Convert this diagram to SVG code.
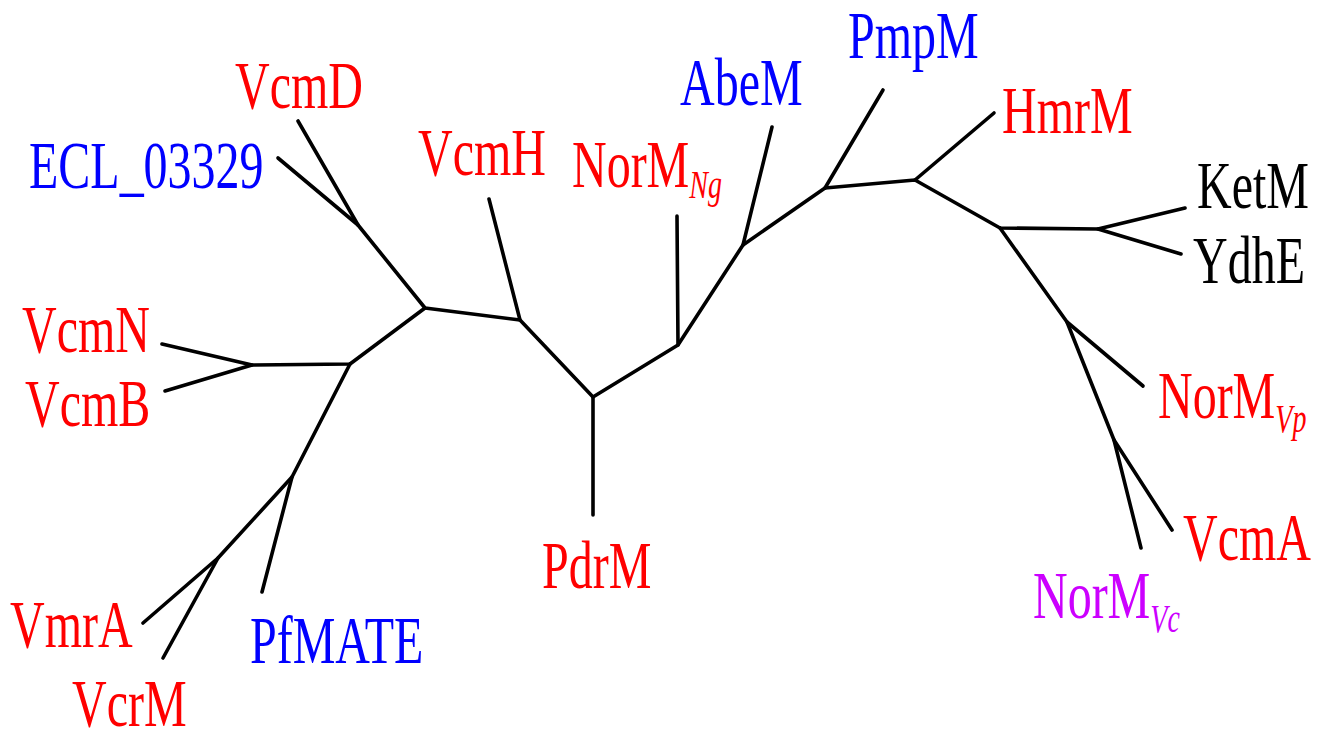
<svg xmlns="http://www.w3.org/2000/svg" width="1317" height="740" viewBox="0 0 1317 740">
<style>
.e{fill:none;stroke:#000;stroke-width:3.6;stroke-linecap:round;stroke-linejoin:round}
text{font-family:"Liberation Serif","Times New Roman",serif;font-size:48px}
.r{fill:#ff0000}.b{fill:#0000ff}.k{fill:#000}.p{fill:#cc00ff}
.s{font-style:italic;font-size:28px}
</style>
<rect width="1317" height="740" fill="#fff"/>
<g id="connectors">
<path class="e" d="M298,121 L358,225 L425,308 L520,320 L593,397 L678,345 L743,245 L825,188 L915,180 L1000,228 L1098,229 L1185,208"/>
<path class="e" d="M278,158 L358,225"/>
<path class="e" d="M425,308 L350,364 L252,365 L162,344"/>
<path class="e" d="M252,365 L165,391"/>
<path class="e" d="M350,364 L292,477 L218,558 L143,623"/>
<path class="e" d="M292,477 L262,592"/>
<path class="e" d="M218,558 L163,658"/>
<path class="e" d="M520,320 L489,199"/>
<path class="e" d="M593,397 L593,515"/>
<path class="e" d="M678,345 L677,216"/>
<path class="e" d="M743,245 L772,127"/>
<path class="e" d="M825,188 L883,90"/>
<path class="e" d="M915,180 L994,113"/>
<path class="e" d="M1098,229 L1181,254"/>
<path class="e" d="M1000,228 L1067,322 L1114,440 L1141,548"/>
<path class="e" d="M1067,322 L1143,386"/>
<path class="e" d="M1114,440 L1172,530"/>
</g>
<g id="VcmD"><text class="r" transform="translate(235,108) scale(1,1.4)">VcmD</text></g>
<g id="ECL_03329"><text class="b" transform="translate(29,188) scale(1,1.4)">ECL_03329</text></g>
<g id="VcmN"><text class="r" transform="translate(22,352) scale(1,1.4)">VcmN</text></g>
<g id="VcmB"><text class="r" transform="translate(25,426) scale(1,1.4)">VcmB</text></g>
<g id="VmrA"><text class="r" transform="translate(10,647) scale(1,1.4)">VmrA</text></g>
<g id="VcrM"><text class="r" transform="translate(72,726) scale(1,1.4)">VcrM</text></g>
<g id="PfMATE"><text class="b" transform="translate(250,663) scale(1,1.4)">PfMATE</text></g>
<g id="VcmH"><text class="r" transform="translate(418,175) scale(1,1.4)">VcmH</text></g>
<g id="NorM_Ng"><text class="r" transform="translate(572,187) scale(1,1.4)">NorM<tspan class="s" dy="8">Ng</tspan></text></g>
<g id="AbeM"><text class="b" transform="translate(680,105) scale(1,1.4)">AbeM</text></g>
<g id="PmpM"><text class="b" transform="translate(848,58) scale(1,1.4)">PmpM</text></g>
<g id="HmrM"><text class="r" transform="translate(1002,133) scale(1,1.4)">HmrM</text></g>
<g id="KetM"><text class="k" transform="translate(1197,208) scale(1,1.4)">KetM</text></g>
<g id="YdhE"><text class="k" transform="translate(1193,283) scale(1,1.4)">YdhE</text></g>
<g id="NorM_Vp"><text class="r" transform="translate(1158,418) scale(1,1.4)">NorM<tspan class="s" dy="10">Vp</tspan></text></g>
<g id="VcmA"><text class="r" transform="translate(1183,560) scale(1,1.4)">VcmA</text></g>
<g id="NorM_Vc"><text class="p" transform="translate(1033,618) scale(1,1.4)">NorM<tspan class="s" dy="10">Vc</tspan></text></g>
<g id="PdrM"><text class="r" transform="translate(542,588) scale(1,1.4)">PdrM</text></g>
</svg>
